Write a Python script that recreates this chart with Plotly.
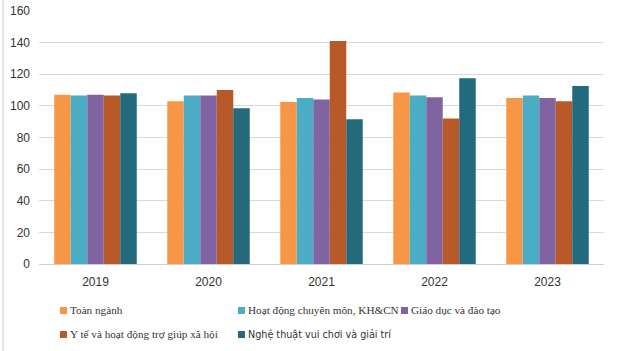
import plotly.graph_objects as go

years = ["2019", "2020", "2021", "2022", "2023"]
series_names = [
    "Toàn ngành",
    "Hoạt động chuyên môn, KH&CN",
    "Giáo dục và đào tạo",
    "Y tế và hoạt động trợ giúp xã hội",
    "Nghệ thuật vui chơi và giải trí",
]
toan_nganh = [107, 103, 102.5, 108.5, 105]
chuyen_mon = [106.5, 106.5, 105, 106.5, 106.5]
giao_duc = [107, 106.5, 104, 105.5, 105]
y_te = [106.5, 110, 141, 92, 103]
nghe_thuat = [108, 98.5, 91.5, 117.5, 112.5]
colors = ["#F79646", "#4BACC6", "#8064A2", "#B8592A", "#236A7C"]

values = [toan_nganh, chuyen_mon, giao_duc, y_te, nghe_thuat]

W, H = 618, 351
ML, MR, MT, MB = 39, 14, 11, 87
PW, PH = W - ML - MR, H - MT - MB

def px_x(px):
    return (px - ML) / PW

def px_y(py):
    return (H - MB - py) / PH

fig = go.Figure()
for name, vals, col in zip(series_names, values, colors):
    fig.add_trace(go.Bar(x=years, y=vals, name=name, marker=dict(color=col, line=dict(width=0))))

fig.update_layout(
    width=W, height=H,
    margin=dict(l=ML, r=MR, t=MT, b=MB, autoexpand=False),
    paper_bgcolor="white", plot_bgcolor="white",
    barmode="group", bargap=0.27, bargroupgap=0,
    font=dict(family="Liberation Sans, Arial, sans-serif", size=12, color="#404040"),
    showlegend=False,
    xaxis=dict(showgrid=False, showline=False, ticks="", ticklabelstandoff=9,
               tickfont=dict(size=12, color="#333333")),
    yaxis=dict(range=[0, 160], dtick=20, showgrid=True, gridcolor="#D9D9D9", gridwidth=1,
               zeroline=True, zerolinecolor="#D0D0D0", zerolinewidth=1, ticklabelstandoff=8,
               showline=False, ticks="", tickfont=dict(size=12, color="#333333")),
)

# custom legend (layout positions in pixels)
legend_pos = [(60, 310), (238, 310), (401, 310), (60, 334), (238, 334)]
serif = "Liberation Serif, Times New Roman, serif"
sans = "DejaVu Sans Condensed, Liberation Sans Narrow, Liberation Sans, sans-serif"
legend_fonts = [(serif, 11.2), (serif, 11.2), (serif, 11.2), (serif, 11.2), (sans, 10.7)]
for (lx, ly), name, col, (fam, fs) in zip(legend_pos, series_names, colors, legend_fonts):
    fig.add_shape(type="rect", xref="paper", yref="paper",
                  x0=px_x(lx), x1=px_x(lx + 7), y0=px_y(ly + 4), y1=px_y(ly - 3),
                  fillcolor=col, line=dict(width=0))
    fig.add_annotation(xref="paper", yref="paper", x=px_x(lx + 8), y=px_y(ly),
                       xanchor="left", yanchor="middle", showarrow=False, text=name,
                       font=dict(family=fam, size=fs, color="#333333"))

fig.add_shape(type="line", xref="paper", yref="paper", x0=px_x(3), x1=px_x(3), y0=px_y(351), y1=px_y(0),
              line=dict(color="#CCCCCC", width=1))

fig.write_html("out.html")
